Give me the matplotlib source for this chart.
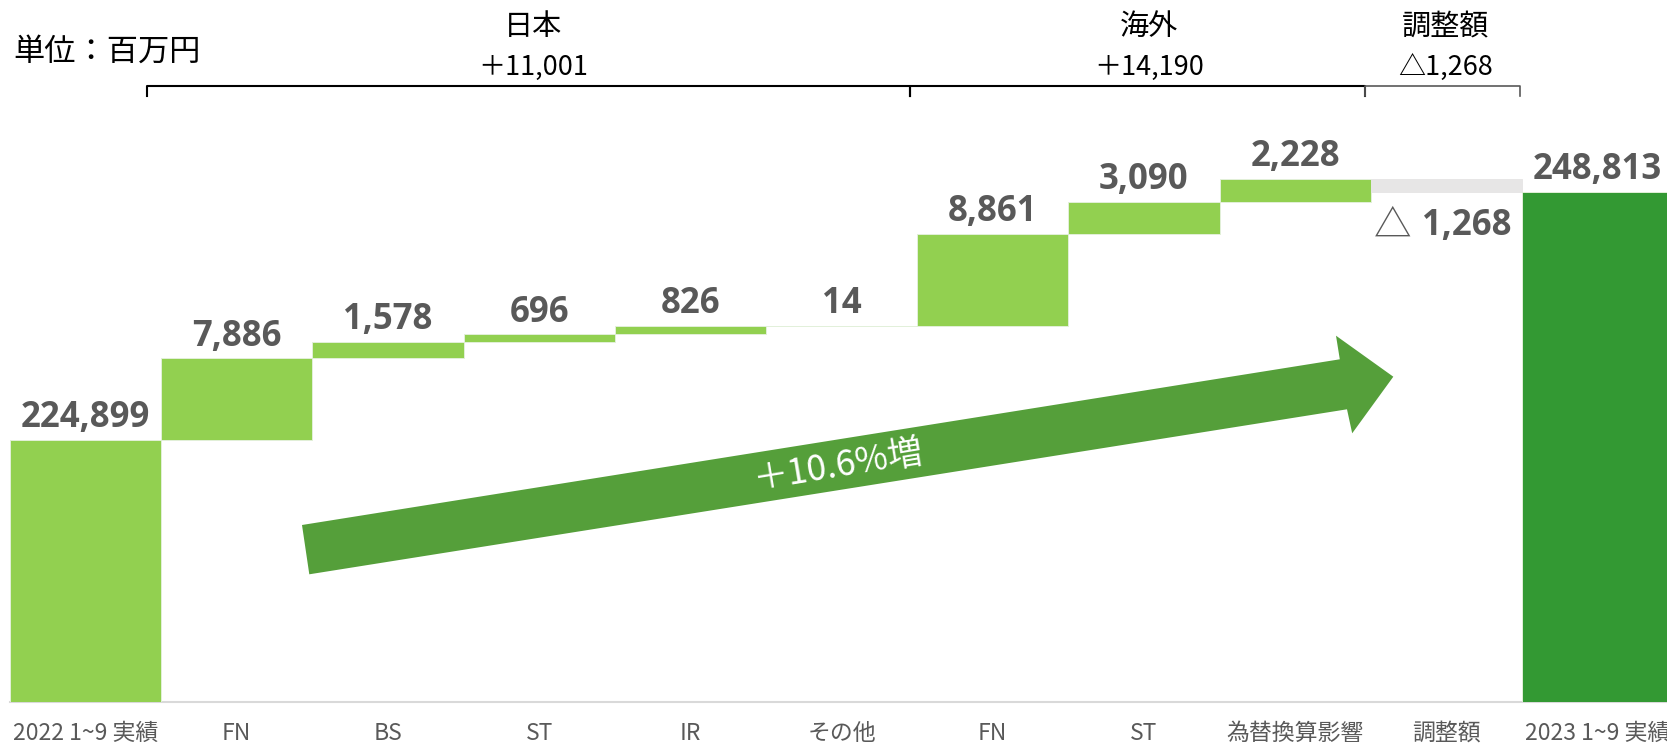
import matplotlib
matplotlib.use("Agg")
import matplotlib.pyplot as plt
from matplotlib.patches import Polygon
from matplotlib.lines import Line2D
import matplotlib.transforms as mtransforms

plt.rcParams['font.family'] = ['Noto Sans CJK JP', 'DejaVu Sans']

# ---- data -------------------------------------------------------------
categories = ["2022 1~9 実績", "FN", "BS", "ST", "IR", "その他",
              "FN", "ST", "為替換算影響", "調整額", "2023 1~9 実績"]
start_total = 224899
changes = [7886, 1578, 696, 826, 14, 8861, 3090, 2228, -1268]
end_total = 248813
group_names = ["日本", "海外", "調整額"]
group_totals = ["＋11,001", "＋14,190", "△1,268"]
growth_label = "＋10.6%増"
unit_label = "単位：百万円"

# ---- colours ----------------------------------------------------------
LIGHT_GREEN = "#92D050"
DARK_GREEN = "#339933"
ARROW_GREEN = "#559F3A"
ADJ_GREY = "#E7E6E6"
EDGE = "#E2F0D9"
LABEL_GREY = "#595959"

W, H = 1667, 749
fig = plt.figure(figsize=(W / 100, H / 100), dpi=100)

# axes: bottom edge at pixel row 702, bars fill each category slot
base_px = 702
left_px = 10.0
slot_px = 151.2
units_per_px = 96.3
y_min = 199668
ax = fig.add_axes([left_px / W, (H - base_px) / H, (W - left_px) / W, base_px / H])
ax.set_xlim(-0.5, -0.5 + (W - left_px) / slot_px)
ax.set_ylim(y_min, y_min + base_px * units_per_px)

# ---- waterfall geometry ------------------------------------------------
bottoms, heights, colors = [0], [start_total], [LIGHT_GREEN]
running = start_total
for c in changes:
    bottoms.append(running if c > 0 else running + c)
    heights.append(abs(c))
    colors.append(LIGHT_GREEN if c > 0 else ADJ_GREY)
    running += c
bottoms.append(0)
heights.append(end_total)
colors.append(DARK_GREEN)

xs = list(range(len(categories)))
edges = [EDGE if col != ADJ_GREY else ADJ_GREY for col in colors]
ax.bar(xs, heights, bottom=bottoms, width=1.0, color=colors,
       edgecolor=edges, linewidth=0.7, zorder=2)

px = 0.72  # points per pixel at 100 dpi
label_font = dict(family=['Open Sans', 'DejaVu Sans'], fontweight='bold',
                  fontsize=25, color=LABEL_GREY)

values = [start_total] + changes + [end_total]
for x, b, h, v in zip(xs, bottoms, heights, values):
    if v >= 0:
        ax.annotate(f"{v:,}", (x, b + h), xytext=(0, 12.5 * px),
                    textcoords='offset points', ha='center', va='baseline',
                    zorder=5, **label_font)
    else:
        ax.annotate(f"{abs(v):,}", (x + 0.43, b), xytext=(0, -43 * px),
                    textcoords='offset points', ha='right', va='baseline',
                    zorder=5, **label_font)
        ax.annotate("△", (x + 0.43, b), xytext=(-100 * px, -45 * px),
                    textcoords='offset points', ha='right', va='baseline',
                    fontsize=27, color=LABEL_GREY, zorder=5)

# category labels under the axis
lab_tr = mtransforms.blended_transform_factory(ax.transData, ax.transAxes)
for x, name in zip(xs, categories):
    ax.text(x, -(740 - base_px) / base_px, name, transform=lab_tr,
            ha='center', va='baseline', fontsize=16.5, color=LABEL_GREY)

ax.set_xticks([])
ax.set_yticks([])
for side in ('top', 'left', 'right'):
    ax.spines[side].set_visible(False)
ax.spines['bottom'].set_color('#D9D9D9')
ax.spines['bottom'].set_linewidth(1.5)
ax.spines['bottom'].set_zorder(1)


def fpt(x, y):
    """pixel position (from top-left) to figure fraction"""
    return (x / W, 1 - y / H)


# ---- growth arrow -------------------------------------------------------
arrow_px = [(302, 525), (1339.8, 359.3), (1336, 335.7), (1393.3, 376.7),
            (1352.2, 433.3), (1347, 409.3), (309.3, 574.3)]
fig.patches.append(Polygon([fpt(*p) for p in arrow_px], closed=True,
                           facecolor=ARROW_GREEN, edgecolor='none',
                           transform=fig.transFigure, zorder=3))
fig.text(*fpt(838, 466), growth_label, color='white', fontsize=25.5,
         rotation=9.5, rotation_mode='anchor', ha='center', va='center', zorder=6)

# ---- group brackets --------------------------------------------------------
bracket_y, tick_y = 86, 96
segments = [(146.7, 909.5, 'black', 1.5), (909.5, 1365, 'black', 1.5),
            (1365, 1520, '#595959', 1.2)]
for x0, x1, col, lw in segments:
    pts = [fpt(x0, tick_y), fpt(x0, bracket_y), fpt(x1, bracket_y), fpt(x1, tick_y)]
    fig.lines.append(Line2D([p[0] for p in pts], [p[1] for p in pts],
                            color=col, linewidth=lw, transform=fig.transFigure))

group_centers = [533, 1149, 1446]
for cx, name, tot in zip(group_centers, group_names, group_totals):
    fig.text(*fpt(cx, 35), name, ha='center', va='baseline', fontsize=21, color='black')
    fig.text(*fpt(cx, 75), tot, ha='center', va='baseline', fontsize=19.5, color='black')

fig.text(*fpt(13, 61), unit_label, ha='left', va='baseline', fontsize=22.5, color='black')

fig.savefig("out.png", dpi=100)
